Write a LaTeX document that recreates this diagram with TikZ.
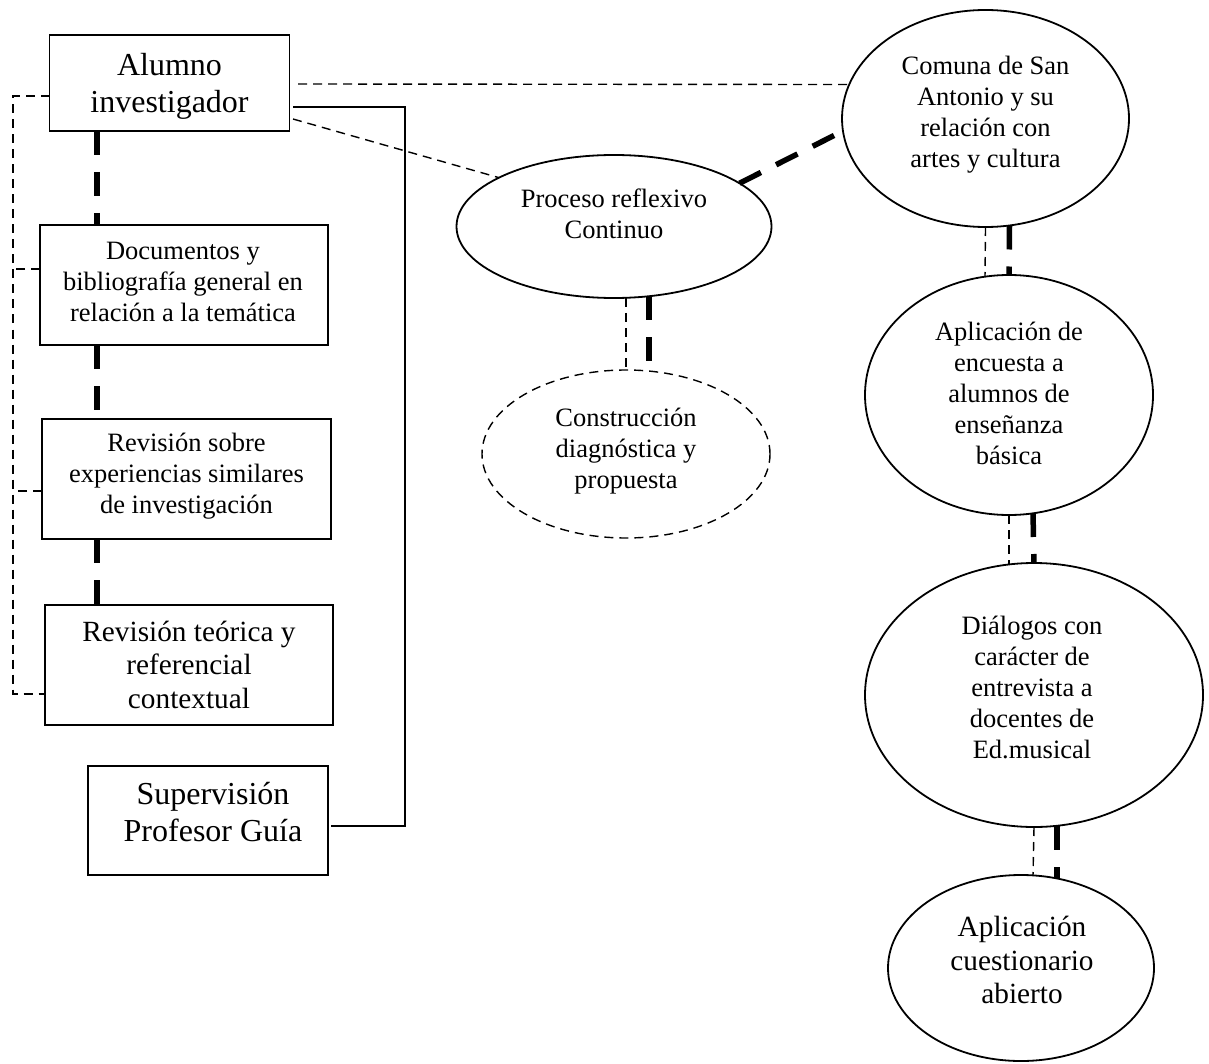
\documentclass[tikz,border=0pt]{standalone}
\usepackage{fontspec}
\setmainfont{Liberation Serif}
\usetikzlibrary{shapes.geometric,calc}
\newcommand\txS{\fontsize{26.5}{31}\selectfont}
\newcommand\txM{\fontsize{29.3}{33.5}\selectfont}
\newcommand\txL{\fontsize{32}{37}\selectfont}
\begin{document}
\begin{tikzpicture}[x=1pt,y=-1pt,
  boxnode/.style={draw, rectangle, line width=1.8pt, inner sep=0pt, outer sep=0pt},
  ellnode/.style={draw, ellipse, line width=1.8pt, inner sep=0pt, outer sep=0pt},
  dashell/.style={ellnode, line width=1.4pt, dash pattern=on 9pt off 6pt},
  labS/.style={align=center, inner sep=0pt, font=\txS},
  labM/.style={align=center, inner sep=0pt, font=\txM},
  labL/.style={align=center, inner sep=0pt, font=\txL},
  bigdash/.style={line width=5.5pt, dash pattern=on 24pt off 17pt},
  smalldash/.style={line width=1.4pt, dash pattern=on 9pt off 6pt},
  solidln/.style={line width=1.7pt}]
\path[fill=white] (0,0) rectangle (1209,1064);
\useasboundingbox (0,0) rectangle (1209,1064);

% boxes
\node[boxnode, minimum width=240pt, minimum height=96pt] (alu) at (169.5,83) {};
\node[boxnode, minimum width=288pt, minimum height=120pt] (doc) at (184,285) {};
\node[boxnode, minimum width=289pt, minimum height=120pt] (revs) at (186.5,479) {};
\node[boxnode, minimum width=288pt, minimum height=120pt] (revt) at (189,665) {};
\node[boxnode, minimum width=240pt, minimum height=109pt] (sup) at (208,820.5) {};

% ellipses
\node[ellnode, minimum width=287pt, minimum height=217pt] (com) at (985.5,118.5) {};
\node[ellnode, minimum width=315pt, minimum height=143pt] (pro) at (614,226.5) {};
\node[dashell, minimum width=288pt, minimum height=168pt] (con) at (626,454) {};
\node[ellnode, minimum width=288pt, minimum height=240pt] (apl) at (1009,395) {};
\node[ellnode, minimum width=338pt, minimum height=264pt] (dia) at (1034,695) {};
\node[ellnode, minimum width=266pt, minimum height=186pt] (cue) at (1021,968) {};

% texts
\node[labL] (aluT) at ($(alu)+(0,3)$) {Alumno\\investigador};
\node[labS] (docT) at ($(doc)+(-1,-3)$) {Documentos y\\bibliografía general en\\relación a la temática};
\node[labS] (revsT) at ($(revs)+(0,-2.5)$) {Revisión sobre\\experiencias similares\\de investigación};
\node[labM] (revtT) at ($(revt)+(0,-0.5)$) {Revisión teórica y\\referencial\\contextual};
\node[labL] (supT) at ($(sup)+(5,-8)$) {Supervisión\\Profesor Guía};
\node[labS] (comT) at ($(com)+(0,-4)$) {Comuna de San\\Antonio y su\\relación con\\artes y cultura};
\node[labS] (proT) at ($(pro)+(0,-13)$) {Proceso reflexivo\\Continuo};
\node[labS] (conT) at ($(con)+(0,-3)$) {Construcción\\diagnóstica y\\propuesta};
\node[labS] (aplT) at ($(apl)+(0,-1.5)$) {Aplicación de\\encuesta a\\alumnos de\\enseñanza\\básica};
\node[labS] (diaT) at ($(dia)+(-2,-8)$) {Diálogos con\\carácter de\\entrevista a\\docentes de\\Ed.musical};
\node[labM] (cueT) at ($(cue)+(1,-8)$) {Aplicación\\cuestionario\\abierto};

% left column thick dashed links
\draw[bigdash] ($(alu.south)+(-72.5,0)$) -- ($(doc.north)+(-87,0)$);
\draw[bigdash] ($(doc.south)+(-87,0)$) -- ($(revs.north)+(-89.5,0)$);
\draw[bigdash] ($(revs.south)+(-89.5,0)$) -- ($(revt.north)+(-92,0)$);

% left dashed bracket
\coordinate (bT) at (13,96);
\coordinate (bB) at (13,694);
\draw[smalldash] ($(alu.west)+(0,13)$) -- (bT) -- (bB) -- ($(revt.west)+(0,29)$);
\draw[smalldash] ($(doc.west)+(0,-16)$) -- ++(-27,0);
\draw[smalldash] ($(revs.west)+(0,12)$) -- ++(-29.5,0);

% solid supervision line
\coordinate (sT) at (405,107);
\coordinate (sB) at (405,826);
\draw[solidln] ($(alu.east)+(3.5,24)$) -- (sT) -- (sB) -- ($(sup.east)+(3,5.5)$);

% links from Alumno
\draw[smalldash] ($(alu.east)+(8.5,1)$) -- (com.166);
\draw[smalldash] ($(alu.east)+(3.5,36)$) -- (pro.157);

% Proceso - Comuna
\draw[bigdash] (pro.19) -- (com.185);

% Proceso - Construccion
\draw[smalldash] ($(pro.south)+(12,0)$) -- (con.north);
\draw[bigdash] ($(pro.south)+(35,-2)$) -- ($(con.north)+(23,1)$);

% right column
\draw[smalldash] (com.south) -- ($(apl.north)+(-24,2)$);
\draw[bigdash] ($(com.south)+(24,-1.5)$) -- (apl.north);
\draw[smalldash] (apl.south) -- ($(dia.north)+(-25,1.5)$);
\draw[bigdash] ($(apl.south)+(24,-2)$) -- (dia.north);
\draw[smalldash] (dia.south) -- ($(cue.north)+(12,0.5)$);
\draw[bigdash] ($(dia.south)+(23,-1)$) -- ($(cue.north)+(36,3.5)$);
\end{tikzpicture}
\end{document}
